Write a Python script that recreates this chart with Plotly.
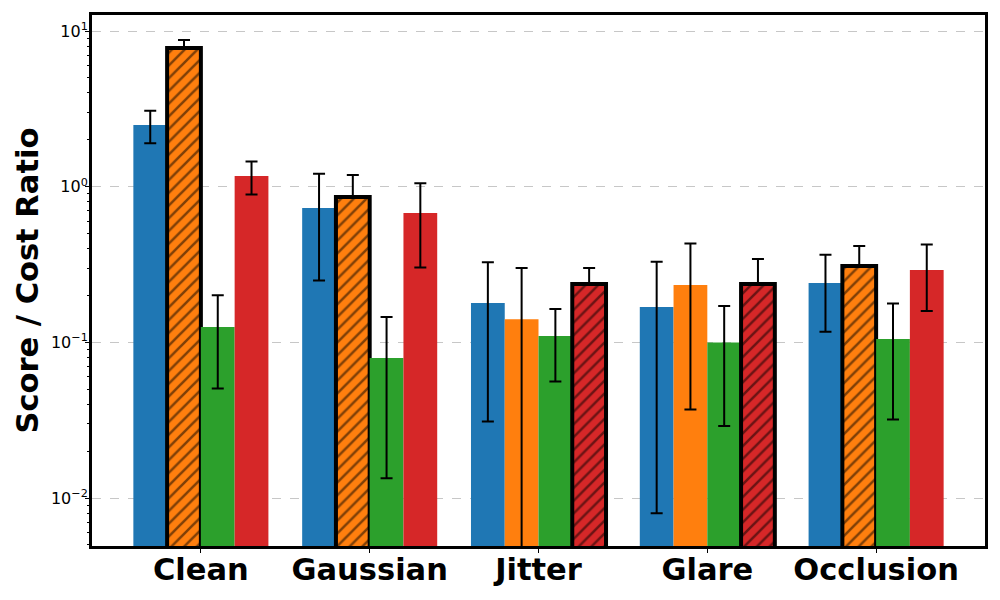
import plotly.graph_objects as go

categories = ["Clean", "Gaussian", "Jitter", "Glare", "Occlusion"]
series_names = ["Method A", "Method B", "Method C", "Method D"]
colors = ["#1f77b4", "#ff7f0e", "#2ca02c", "#d62728"]

vals_a = [2.49, 0.73, 0.179, 0.169, 0.241]
vals_b = [7.78, 0.86, 0.141, 0.234, 0.310]
vals_c = [0.1256, 0.0794, 0.110, 0.100, 0.105]
vals_d = [1.17, 0.678, 0.237, 0.237, 0.292]

err_a = [0.59, 0.48, 0.148, 0.161, 0.124]
err_b = [0.97, 0.33, 0.160, 0.197, 0.106]
err_c = [0.075, 0.066, 0.054, 0.071, 0.073]
err_d = [0.28, 0.375, 0.064, 0.106, 0.133]

values = [vals_a, vals_b, vals_c, vals_d]
errors = [err_a, err_b, err_c, err_d]

# best series per category is highlighted
best = [max(range(4), key=lambda s: values[s][i]) for i in range(len(categories))]

offsets = [-0.3, -0.1, 0.1, 0.3]
fig = go.Figure()
for s in range(4):
    xs = [i + offsets[s] for i in range(len(categories))]
    hl = [best[i] == s for i in range(len(categories))]
    fig.add_trace(go.Bar(
        x=xs, y=values[s], width=0.2, name=series_names[s],
        marker=dict(
            color=colors[s],
            line=dict(color="black", width=[4 if h else 0 for h in hl]),
            pattern=dict(shape=["/" if h else "" for h in hl],
                         fgcolor="black", size=9, solidity=0.28),
        ),
        error_y=dict(type="data", symmetric=False,
                     array=errors[s],
                     arrayminus=[0 if h else e for h, e in zip(hl, errors[s])],
                     color="black", thickness=2, width=6),
        showlegend=False,
    ))

minor_vals = []
for e in [0.001, 0.01, 0.1, 1, 10]:
    for k in range(2, 10):
        minor_vals.append(k * e)

fig.update_layout(
    width=1000, height=600,
    margin=dict(l=92, r=15, t=15, b=54),
    paper_bgcolor="white", plot_bgcolor="white",
    barmode="overlay",
    font=dict(family="DejaVu Sans", color="black"),
)
fig.update_xaxes(
    range=[-0.645, 4.645], automargin=False,
    tickmode="array", tickvals=list(range(len(categories))),
    ticktext=["<b>%s</b>" % c for c in categories],
    tickfont=dict(size=30.5, family="DejaVu Sans"),
    ticks="outside", ticklen=4, tickwidth=1, tickcolor="black",
    ticklabelstandoff=-10,
    showline=True, linecolor="black", linewidth=3, mirror=True,
    showgrid=False, zeroline=False,
)
fig.update_yaxes(
    type="log", range=[-2.308, 1.103], automargin=False,
    tickmode="array", tickvals=[0.01, 0.1, 1, 10],
    ticktext=["10<sup>\u22122</sup>", "10<sup>\u22121</sup>", "10<sup>0</sup>", "10<sup>1</sup>"],
    tickfont=dict(size=16),
    ticks="outside", ticklen=4, tickwidth=1, tickcolor="black",
    ticklabelstandoff=-6,
    minor=dict(tickmode="array", tickvals=minor_vals, ticks="outside",
               ticklen=2, tickwidth=1, tickcolor="black", showgrid=False),
    showgrid=True, gridcolor="rgba(0,0,0,0.22)", griddash="dash", gridwidth=1,
    showline=True, linecolor="black", linewidth=3, mirror=True,
)
fig.add_annotation(
    text="<b>Score / Cost Ratio</b>", textangle=-90,
    xref="paper", yref="paper", x=-0.0717, y=0.5,
    xanchor="center", yanchor="middle", showarrow=False,
    font=dict(size=30.5, family="DejaVu Sans", color="black"),
)

fig.write_html("out.html")
